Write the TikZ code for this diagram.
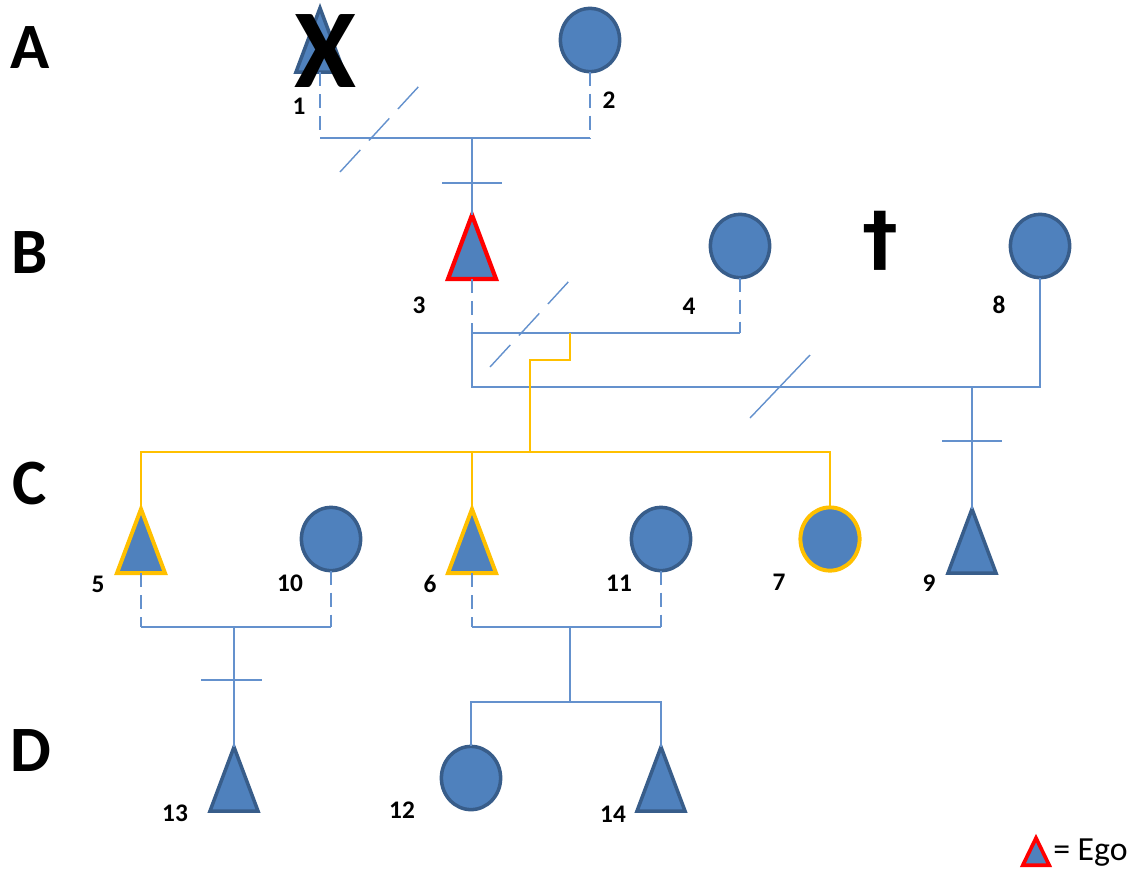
\documentclass[tikz,border=0pt]{standalone}
\usepackage{fontspec}
\setmainfont{Carlito}
\newfontfamily\crossfont{DejaVu Sans}
\usetikzlibrary{shapes.geometric, positioning}
\definecolor{pedfill}{RGB}{79,129,189}
\definecolor{pedline}{RGB}{56,93,138}
\definecolor{kinblue}{RGB}{100,145,205}
\definecolor{egored}{RGB}{255,0,0}
\definecolor{sibgold}{RGB}{255,192,0}

\begin{document}
\begin{tikzpicture}[x=0.025cm, y=-0.025cm,
    male/.style={isosceles triangle, isosceles triangle apex angle=41,
        isosceles triangle stretches, shape border rotate=90,
        minimum width=1.2cm, minimum height=1.6cm, anchor=apex},
    female/.style={ellipse, minimum width=1.48cm, minimum height=1.58cm},
    kin/.style={draw=kinblue, line width=1pt},
    stub/.style={kin, dash pattern=on 0.35cm off 0.2cm},
    split/.style={kin, dash pattern=on 0.75cm off 0.32cm},
    gold/.style={draw=sibgold, line width=1pt},
    num/.style={font=\bfseries\fontsize{18}{20}\selectfont, inner sep=0pt},
    gen/.style={font=\bfseries\fontsize{46}{46}\selectfont, inner sep=0pt}]

\useasboundingbox (0,0) rectangle (1130,871);

% generations
\node[gen] (genA) at (30,48) {A};
\node[gen] (genB) at (30,253) {B};
\node[gen] (genC) at (30,483) {C};
\node[gen] (genD) at (31,751) {D};

\begin{scope}[every node/.style={draw=pedline, fill=pedfill, line width=2.5pt,
    inner sep=0pt, outer sep=0pt}]
    \node[male] (a) at (320,8) {};
    \node[female] (b) at (590,40) {};
    \node[male, draw=egored, line width=3pt] (c) at (472,215) {};
    \node[female] (d) at (740,246) {};
    \node[female] (h) at (1040,246) {};
    \node[male, draw=sibgold, line width=2.8pt] (e) at (141,509) {};
    \node[female] (j) at (331,539) {};
    \node[male, draw=sibgold, line width=2.8pt] (f) at (472,509) {};
    \node[female] (k) at (661,539) {};
    \node[female, draw=sibgold, line width=2.8pt] (g) at (830,539) {};
    \node[male] (i) at (972,509) {};
    \node[male] (m) at (234,747) {};
    \node[female] (l) at (471,778) {};
    \node[male] (n) at (661,747) {};
    \node[male, draw=egored, line width=2.6pt, minimum width=0.66cm, minimum height=0.68cm] (ego) at (1036,838) {};
\end{scope}

% marks
\node[font=\bfseries\fontsize{80}{80}\selectfont, inner sep=0pt] (dead1) at (325,51) {X};
\node[font=\crossfont\bfseries\fontsize{51}{51}\selectfont, inner sep=0pt] (dead8) at (880,241) {†};
\node[anchor=west, font=\fontsize{24}{26}\selectfont, inner sep=0pt] (egotext) at (1053,853) {= Ego};

% numbers
\node[num] (la) at (299,106) {1};
\node[num] (lb) at (609,100) {2};
\node[num] (lc) at (419,305) {3};
\node[num] (ld) at (689,306) {4};
\node[num] (lh) at (999,305) {8};
\node[num] (le) at (98,584) {5};
\node[num] (lj) at (290,583) {10};
\node[num] (lf) at (430,584) {6};
\node[num] (lk) at (619,583) {11};
\node[num] (lg) at (779,582) {7};
\node[num] (li) at (929,583) {9};
\node[num] (lm) at (175,813) {13};
\node[num] (ll) at (402,810) {12};
\node[num] (ln) at (613,814) {14};

% unions
\coordinate (ab) at (472,138);
\coordinate (cd) at (570,333);
\coordinate (ch) at (972,387);
\coordinate (sib) at (530,452);
\coordinate (ej) at (234,627);
\coordinate (fk) at (570,627);
\coordinate (kids) at (570,702);

\draw[stub] (a.lower side) -- (a.lower side |- ab);
\draw[stub] (b.south) -- (b.south |- ab);
\draw[kin] (a.lower side |- ab) -- (b.south |- ab);
\draw[kin] (ab) -- (c.apex);
\draw[kin] (ab) ++(-30,45) -- ++(60,0);
\draw[split] (340,172) -- (420,85);

\draw[stub] (c.lower side) -- (c.lower side |- cd);
\draw[stub] (d.south) -- (d.south |- cd);
\draw[kin] (c.lower side |- cd) -- (d.south |- cd);
\draw[split] (490,367) -- (570,280);
\draw[kin] (c.lower side |- cd) -- (c.lower side |- ch) -- (h.south |- ch) -- (h.south);
\draw[kin] (750,418) -- (810,355);
\draw[kin] (ch) -- (i.apex);
\draw[kin] (ch) ++(-30,54) -- ++(60,0);

\draw[gold] (cd) -- ++(0,27) -| (sib);
\draw[gold] (e.apex) -- (e.apex |- sib) -- (g.north |- sib) -- (g.north);
\draw[gold] (f.apex) -- (f.apex |- sib);

\draw[stub] (e.lower side) -- (e.lower side |- ej);
\draw[stub] (j.south) -- (j.south |- ej);
\draw[kin] (e.lower side |- ej) -- (j.south |- ej);
\draw[kin] (ej) -- (m.apex);
\draw[kin] (ej) ++(-33,53) -- ++(61,0);

\draw[stub] (f.lower side) -- (f.lower side |- fk);
\draw[stub] (k.south) -- (k.south |- fk);
\draw[kin] (f.lower side |- fk) -- (k.south |- fk);
\draw[kin] (fk) -- (kids);
\draw[kin] (l.north) -- (l.north |- kids) -- (n.apex |- kids) -- (n.apex);
\end{tikzpicture}
\end{document}
